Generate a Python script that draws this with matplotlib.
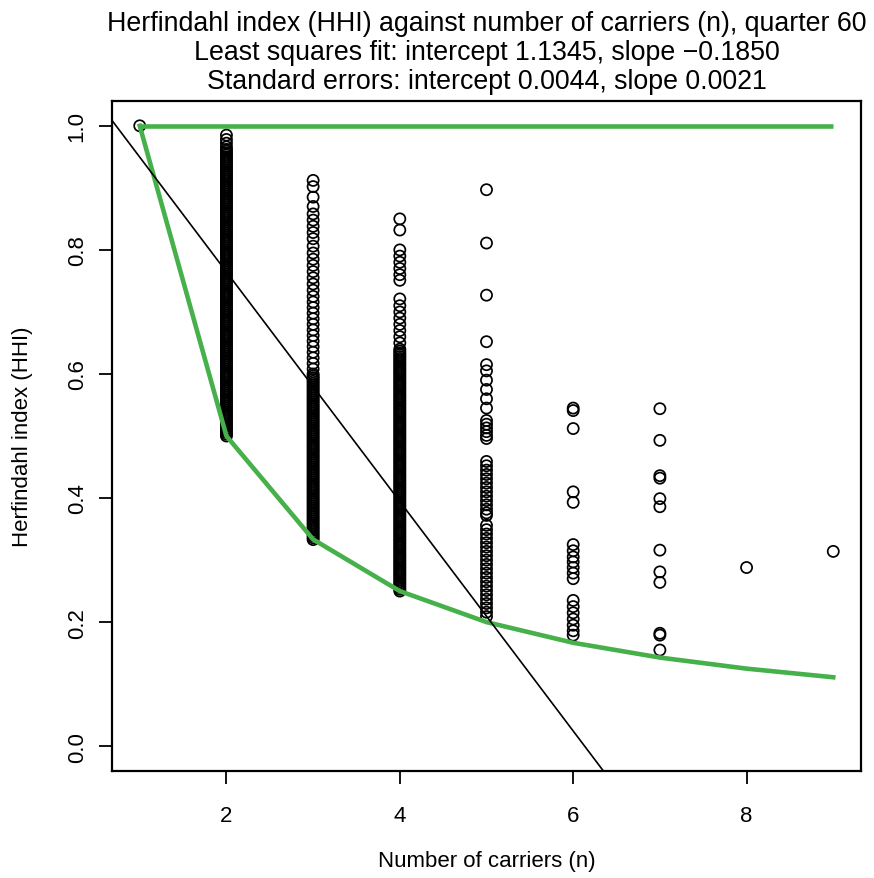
import matplotlib
matplotlib.use("Agg")
import matplotlib.pyplot as plt

plt.rcParams['font.family'] = ['Liberation Sans', 'DejaVu Sans']

# ---- data (HHI values by number of carriers) ----
n1 = [1.0]
n2 = [0.985, 0.978, 0.972, 0.966,
      0.962, 0.959, 0.956, 0.953, 0.950,
      0.947, 0.944, 0.941, 0.938, 0.935, 0.932, 0.929, 0.926, 0.923, 0.920,
      0.917, 0.914, 0.911, 0.908, 0.905, 0.902, 0.899, 0.896, 0.893, 0.890,
      0.887, 0.884, 0.881, 0.878, 0.875, 0.872, 0.869, 0.866, 0.863, 0.860,
      0.857, 0.854, 0.851, 0.848, 0.845, 0.842, 0.839, 0.836, 0.833, 0.830,
      0.827, 0.824, 0.821, 0.818, 0.815, 0.812, 0.809, 0.806, 0.803, 0.800,
      0.797, 0.794, 0.791, 0.788, 0.785, 0.782, 0.779, 0.776, 0.773, 0.770,
      0.767, 0.764, 0.761, 0.758, 0.755, 0.752, 0.749, 0.746, 0.743, 0.740,
      0.737, 0.734, 0.731, 0.728, 0.725, 0.722, 0.719, 0.716, 0.713, 0.710,
      0.707, 0.704, 0.701, 0.698, 0.695, 0.692, 0.689, 0.686, 0.683, 0.680,
      0.677, 0.674, 0.671, 0.668, 0.665, 0.662, 0.659, 0.656, 0.653, 0.650,
      0.647, 0.644, 0.641, 0.638, 0.635, 0.632, 0.629, 0.626, 0.623, 0.620,
      0.617, 0.614, 0.611, 0.608, 0.605, 0.602, 0.599, 0.596, 0.593, 0.590,
      0.587, 0.584, 0.581, 0.578, 0.575, 0.572, 0.569, 0.566, 0.563, 0.560,
      0.557, 0.554, 0.551, 0.548, 0.545, 0.542, 0.539, 0.536, 0.533, 0.530,
      0.527, 0.524, 0.521, 0.518, 0.515, 0.512, 0.509, 0.506, 0.503, 0.500]
n3 = [0.912, 0.902, 0.885, 0.870, 0.858, 0.848, 0.838, 0.828, 0.818, 0.806,
      0.795, 0.785, 0.775, 0.765, 0.755, 0.745, 0.735, 0.725, 0.716, 0.707,
      0.698, 0.689, 0.680, 0.671, 0.662, 0.653, 0.644, 0.635, 0.626, 0.617,
      0.608,
      0.600, 0.597, 0.594, 0.591, 0.588, 0.585, 0.582, 0.579, 0.576, 0.573,
      0.570, 0.567, 0.564, 0.561, 0.558, 0.555, 0.552, 0.549, 0.546, 0.543,
      0.540, 0.537, 0.534, 0.531, 0.528, 0.525, 0.522, 0.519, 0.516, 0.513,
      0.510, 0.507, 0.504, 0.501, 0.498, 0.495, 0.492, 0.489, 0.486, 0.483,
      0.480, 0.477, 0.474, 0.471, 0.468, 0.465, 0.462, 0.459, 0.456, 0.453,
      0.450, 0.447, 0.444, 0.441, 0.438, 0.435, 0.432, 0.429, 0.426, 0.423,
      0.420, 0.417, 0.414, 0.411, 0.408, 0.405, 0.402, 0.399, 0.396, 0.393,
      0.390, 0.387, 0.384, 0.381, 0.378, 0.375, 0.372, 0.369, 0.366, 0.363,
      0.360, 0.357, 0.354, 0.351, 0.348, 0.345, 0.342, 0.339, 0.336, 0.333]
n4 = [0.850, 0.832, 0.800, 0.790, 0.780, 0.770, 0.760, 0.751, 0.721, 0.710,
      0.700, 0.690, 0.680, 0.670, 0.660, 0.650,
      0.640, 0.637, 0.634, 0.631, 0.628, 0.625, 0.622, 0.619, 0.616, 0.613,
      0.610, 0.607, 0.604, 0.601, 0.598, 0.595, 0.592, 0.589, 0.586, 0.583,
      0.580, 0.577, 0.574, 0.571, 0.568, 0.565, 0.562, 0.559, 0.556, 0.553,
      0.550, 0.547, 0.544, 0.541, 0.538, 0.535, 0.532, 0.529, 0.526, 0.523,
      0.520, 0.517, 0.514, 0.511, 0.508, 0.505, 0.502, 0.499, 0.496, 0.493,
      0.490, 0.487, 0.484, 0.481, 0.478, 0.475, 0.472, 0.469, 0.466, 0.463,
      0.460, 0.457, 0.454, 0.451, 0.448, 0.445, 0.442, 0.439, 0.436, 0.433,
      0.430, 0.427, 0.424, 0.421, 0.418, 0.415, 0.412, 0.409, 0.406, 0.403,
      0.400, 0.397, 0.394, 0.391, 0.388, 0.385, 0.382, 0.379, 0.376, 0.373,
      0.370, 0.367, 0.364, 0.361, 0.358, 0.355, 0.352, 0.349, 0.346, 0.343,
      0.340, 0.337, 0.334, 0.331, 0.328, 0.325, 0.322, 0.319, 0.316, 0.313,
      0.310, 0.307, 0.304, 0.301, 0.298, 0.295, 0.292, 0.289, 0.286, 0.283,
      0.280, 0.277, 0.274, 0.271, 0.268, 0.265, 0.262, 0.259, 0.256, 0.253,
      0.250]
n5 = [0.897, 0.811, 0.727, 0.652, 0.615, 0.605, 0.590, 0.575, 0.560, 0.545,
      0.525, 0.519, 0.513, 0.507, 0.501, 0.496,
      0.459, 0.452, 0.445, 0.438, 0.431, 0.424, 0.417, 0.410, 0.403, 0.396,
      0.389, 0.382, 0.376, 0.372,
      0.356, 0.349, 0.342, 0.335, 0.328, 0.321, 0.314, 0.307, 0.300, 0.293,
      0.286, 0.279, 0.272, 0.265, 0.258, 0.251, 0.244, 0.237, 0.230, 0.223,
      0.216, 0.209]
n6 = [0.545, 0.541, 0.512, 0.410, 0.393, 0.325, 0.315, 0.305, 0.297, 0.288,
      0.279, 0.270, 0.235, 0.225, 0.215, 0.205, 0.195, 0.186, 0.179]
n7 = [0.544, 0.493, 0.436, 0.432, 0.399, 0.386, 0.316, 0.281, 0.264, 0.182,
      0.179, 0.155]
n8 = [0.288]
n9 = [0.314]

groups = {1: n1, 2: n2, 3: n3, 4: n4, 5: n5, 6: n6, 7: n7, 8: n8, 9: n9}

intercept = 1.1345
slope = -0.1850
carriers = [1, 2, 3, 4, 5, 6, 7, 8, 9]
hhi_min = [1 / n for n in carriers]
hhi_max = [1.0 for n in carriers]

# ---- figure ----
fig = plt.figure(figsize=(8.74, 8.79), dpi=100)
ax = fig.add_axes([112 / 874, 1 - 772 / 879, (861 - 112) / 874, (772 - 102) / 879])

xs, ys = [], []
for k, v in groups.items():
    xs += [k] * len(v)
    ys += v
ax.scatter(xs, ys, s=64, facecolors='none', edgecolors='black', linewidths=1.25, zorder=3)

green = '#46b04a'
ax.plot(carriers, hhi_max, color=green, lw=3.3, zorder=4, solid_capstyle='butt')
ax.plot(carriers, hhi_min, color=green, lw=3.3, zorder=4, solid_joinstyle='round')
ax.axline((0, intercept), slope=slope, color='black', lw=1.2, zorder=5)

ax.set_xlim(0.68, 9.32)
ax.set_ylim(-0.04, 1.04)
ax.set_xticks([2, 4, 6, 8])
ax.set_yticks([0.0, 0.2, 0.4, 0.6, 0.8, 1.0])
ax.set_yticklabels(['0.0', '0.2', '0.4', '0.6', '0.8', '1.0'], rotation=90, va='center')
ax.tick_params(direction='out', length=9.5, width=1.3, labelsize=16)
ax.tick_params(axis='x', pad=15)
ax.tick_params(axis='y', pad=8)
for s in ax.spines.values():
    s.set_linewidth(1.6)

ax.set_xlabel('Number of carriers (n)', fontsize=16, labelpad=17.5)
ax.set_ylabel('Herfindahl index (HHI)', fontsize=16, labelpad=24)
ax.set_title('Herfindahl index (HHI) against number of carriers (n), quarter 60\n'
             'Least squares fit: intercept 1.1345, slope \u22120.1850\n'
             'Standard errors: intercept 0.0044, slope 0.0021',
             fontsize=19.3, linespacing=1.17, pad=9)

fig.savefig('out.png', dpi=100)
